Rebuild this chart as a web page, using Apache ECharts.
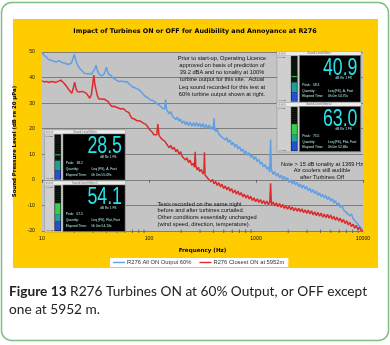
<!DOCTYPE html>
<html>
<head>
<meta charset="utf-8">
<script src="https://cdn.jsdelivr.net/npm/echarts@6/dist/echarts.min.js"></script>
<style>
html,body{margin:0;padding:0;background:#fff;}
#c{width:390px;height:345px;}
</style>
</head>
<body>
<div id="c"></div>
<script>
// Spectrum with all turbines running at 60% output (Hz, dB re 20 µPa)
const allOnFreq = [10,10.5,11,11.5,12,12.5,13,13.5,14,14.5,15,15.5,16,16.5,17,17.5,18,18.8,19.5,20,20.5,21,22,23,24,25,26,27,28,29,30,31,32,33,34,35,36,37,38,39,40,41,42,43,44,45,46,47,48,50,51,53,54.5,56,57.5,59,60.5,62,64,66,68,70,71.5,73,74.5,76,77.5,79,80.5,82,84,86,88,90,92.5,95,97.5,100,102.5,105,107,109,111.5,114,116,118,120,122,124,126,128.5,131,133.5,136,138,140,143,146,
  150,155,160,166,172,178,184,191,197,204,211,219,226,234,242,251,260,269,278,288,298,308,319,330,342,354,366,379,392,399,405,411,420,434,449,465,481,498,516,534,552,572,592,612,634,656,679,703,727,753,779,806,835,864,894,925,958,991,1026,1062,1099,1137,1177,1218,1261,1305,1345,1369,1393,1447,1497,1550,1604,1660,1718,1778,1840,1905,1971,2040,2112,2186,2262,2341,2423,2508,2596,2687,2781,2878,2979,3083,3191,3303,3418,3538,3662,3790,3922,4060,4202,4349,4501,4658,4821,4990,5165,5345,5532,5726,5926,6134,6348,6571,6800,7038,7285,7540,7803,8077,8359,8652,8955,9268,9593,9928,10000];
const allOnLevel = [49.8,48.6,48.1,47.1,46.9,46.6,46.8,46.1,46.4,46.6,45.9,45.8,46.0,45.6,45.7,45.1,45.3,45.6,47.5,49.1,47.6,46.0,44.1,43.2,42.4,41.6,41.9,41.5,41.7,41.4,42.3,43.2,44.8,42.6,41.4,41.0,40.7,40.9,41.4,42.6,44.1,42.4,41.3,40.6,40.9,40.2,39.9,39.4,39.6,38.9,39.1,38.4,38.0,38.7,38.9,38.3,38.1,38.5,37.9,37.3,36.6,36.4,36.9,36.4,35.9,35.8,36.1,35.5,35.1,35.3,34.6,34.3,33.6,33.1,32.6,31.9,32.1,31.5,31.2,31.7,31.4,31.0,30.6,30.5,30.1,30.2,29.6,29.8,29.3,29.1,28.6,28.5,28.0,28.0,27.5,27.7,31.4,27.4,
  27.5,25.8,26.7,24.9,25.4,23.6,24.5,22.9,23.8,22.1,23.1,21.6,22.8,21.2,22.6,21.0,22.3,20.9,22.4,20.9,22.1,20.6,22.0,20.4,21.6,20.1,21.4,19.9,20.8,19.5,24.2,20.3,18.9,19.7,17.9,18.6,16.7,17.4,15.6,16.5,14.7,15.6,13.7,14.6,12.9,13.9,12.1,13.0,11.2,12.1,10.3,11.3,9.6,10.6,8.8,9.7,8.0,9.0,7.2,8.0,6.1,6.9,5.1,6.0,4.2,5.0,3.1,15.8,4.0,2.2,3.2,1.5,2.5,0.8,1.8,0.2,1.4,-0.2,0.8,-1.0,0.0,-1.6,-0.4,-2.0,-1.0,-2.7,-1.6,-3.2,-2.0,-3.6,-2.6,-4.3,-3.3,-4.9,-3.8,-5.4,-4.4,-6.1,-5.1,-6.7,-5.6,-7.1,-6.1,-7.7,-6.7,-8.3,-7.3,-9.0,-8.1,-9.9,-9.0,-10.8,-9.9,-11.7,-11.0,-12.9,-12.2,-14.1,-13.3,-15.2,-14.5,-16.6,-16.0,-18.0,-17.5,-19.8,-19.9];

// Spectrum with only the closest turbine (5952 m) running
const closestFreq = [10,10.5,11,11.5,12,12.5,13,13.5,14,15,15.5,16,16.5,17,18,19,19.6,20.2,20.8,21.5,22.5,24,25,26,27,28,29,29.8,30.5,31.2,32,33,34,35,36,37,38.5,40,41.5,43,44,45,47,48,49,51,52,53,54.5,56,57.5,59,61,63,65,67,69,71,73,75,77.5,80,83,86,88.5,91,93.5,96,99,102,105,108,111,114,118,121,124,128,131,133,135.5,138,141.5,145,
  150,155,160,166,172,178,184,191,197,204,211,219,226,234,242,251,260,266,270,274,282,290,298,308,319,326,330,334,342,354,366,379,392,405,420,434,449,465,481,498,516,534,552,572,592,612,634,656,679,703,727,753,779,806,835,864,894,925,958,991,1026,1062,1099,1137,1177,1218,1261,1305,1345,1369,1393,1447,1497,1550,1604,1660,1718,1778,1840,1905,1971,2040,2112,2186,2262,2341,2423,2508,2596,2687,2781,2878,2979,3083,3191,3303,3418,3538,3662,3790,3922,4060,4202,4349,4501,4658,4821,4990,5165,5345,5532,5726,5926,6134,6348,6571,6800,7038,7285,7540,7803,8077,8359,8652,8955,9268,9593,9928,10000];
const closestLevel = [38.7,38.3,38.5,38.2,38.3,38.5,38.4,38.1,38.6,39.0,38.6,37.9,37.4,36.5,35.0,33.9,35.8,38.2,35.6,34.5,34.4,34.6,34.5,33.8,33.2,31.9,33.5,37.5,41.0,37.2,35.2,32.8,31.6,31.3,31.6,32.0,31.5,31.0,30.6,29.6,29.4,28.7,28.8,28.3,28.5,28.2,28.6,28.0,27.7,27.6,27.9,27.2,26.9,26.7,26.3,25.0,24.1,23.4,23.8,23.6,23.1,23.4,23.0,22.8,22.2,22.1,21.7,21.0,20.3,19.5,19.3,18.5,17.6,17.1,17.6,21.8,17.4,16.6,16.4,15.8,15.3,15.2,15.0,14.2,
  14.2,12.5,13.5,11.9,12.8,11.0,11.9,10.1,11.0,9.2,9.9,7.8,8.6,6.8,7.7,5.7,6.5,4.9,11.0,5.4,3.9,4.9,3.2,4.1,2.3,3.2,10.8,1.9,2.6,0.6,1.2,-0.7,0.2,-1.5,-0.6,-2.2,-1.1,-2.7,-1.7,-3.4,-2.4,-3.9,-2.8,-4.4,-3.4,-5.1,-4.0,-5.6,-4.4,-6.0,-5.0,-6.6,-5.6,-7.1,-6.0,-7.5,-6.4,-8.1,-7.0,-8.5,-7.4,-8.8,-7.7,-9.2,-8.1,-9.5,-8.3,-9.7,-8.6,-1.3,-9.8,-8.7,-10.2,-9.0,-10.5,-9.3,-10.8,-9.6,-11.2,-10.1,-11.5,-10.3,-11.7,-10.6,-12.1,-10.9,-12.3,-11.1,-12.5,-11.3,-12.8,-11.7,-13.1,-11.8,-13.3,-12.1,-13.7,-12.5,-14.0,-12.7,-14.2,-13.0,-14.6,-13.4,-14.8,-13.5,-15.0,-13.8,-15.4,-14.3,-15.8,-14.6,-16.1,-15.0,-16.6,-15.5,-17.1,-16.0,-17.6,-16.6,-18.3,-17.3,-18.9,-17.8,-19.4,-18.5,-19.8,-19.5,-19.9];

const seriesNames = ['R276 All ON Output 60%', 'R276 Closest ON at 5952m'];
const freqTicks = [10, 100, 1000, 10000];
const minorTickFreq = [20,30,40,50,60,70,80,90,200,300,400,500,600,700,800,900,2000,3000,4000,5000,6000,7000,8000,9000];

// Sound level meter readouts: upper-right pair (turbines ON), lower-left pair (turbines OFF)
const meterTitles = ['Sound Level Meter', 'Sound Level Meter 2', 'Sound Level Meter', 'Sound Level Meter 2'];
const meterValues = ['40.9', '63.0', '28.5', '54.1'];
const meterPeaks = ['58.3', '75.5', '38.2', '67.5'];
const meterQuantities = ['Leq (FS), A, Fast', 'Leq (FS), Flat, Fast', 'Leq (FS), A, Fast', 'Leq (FS), Flat, Fast'];
const meterElapsed = ['0h 0m 54.75s', '0h 0m 52.68s', '0h 0m 55.69s', '0h 0m 54.13s'];

const noteTopLines = ['Prior to start-up, Operating Licence','approved on basis of prediction of','39.2 dBA and no tonality at 100%','turbine output for this site.  Actual','Leq sound recorded for this test at','60% turbine output shown at right.'];
const noteBottomLines = ['Tests recorded on the same night','before and after turbines curtailed.','Other conditions essentially unchanged','(wind speed, direction, temperature).'];
const noteRightLines = ['Note > 15 dB tonality at 1369 Hz','Air coolers still audible','after Turbines Off'];

const BLUE = '#5f9fe8';
const RED = '#dc2b2b';
const SMALL = 'Liberation Sans';

function pairs(fs, vs) { return fs.map((f, i) => [f, vs[i]]); }

function meterWindow(k, wx, wy, w, h, strip, flat) {
  const els = [];
  const dx = wx + strip, dy = wy + 4, dw = w - strip - 0.5, dh = h - 4.5;
  els.push({type:'rect', z:20, shape:{x:wx, y:wy, width:w, height:h}, style:{fill:'#cfcfcf', stroke:'#8a8a8a', lineWidth:0.5}});
  els.push({type:'rect', z:21, shape:{x:wx, y:wy, width:w, height:4}, style:{fill:'#ececec', stroke:'#a0a0a0', lineWidth:0.4}});
  [2.2, 4.9, 7.6].forEach(o => els.push({type:'circle', z:22, shape:{cx:wx + o, cy:wy + 2, r:1}, style:{fill:'#c4c4c4', stroke:'#8a8a8a', lineWidth:0.3}}));
  els.push({type:'text', z:22, x:wx + w / 2, y:wy + 2.1, style:{text:meterTitles[k], fontSize:2.8, fontFamily:SMALL, fill:'#666', align:'center', verticalAlign:'middle'}});
  // level bar
  const bx = dx - 8.5, by = dy + 0.5, bw = 6.5, bh = dh - 1;
  els.push({type:'rect', z:21, shape:{x:bx, y:by, width:bw, height:bh}, style:{fill:'#050805', stroke:'#6a6a6a', lineWidth:0.4}});
  for (let t = 0.06; t < 0.95; t += 0.045) {
    els.push({type:'line', z:22, shape:{x1:bx + 0.6, y1:by + bh * t, x2:bx + bw - 0.6, y2:by + bh * t}, style:{stroke:'#213a26', lineWidth:0.5}});
  }
  const zone = (a, b, c) => els.push({type:'rect', z:23, shape:{x:bx + 0.6, y:by + bh * a, width:bw - 1.2, height:bh * (b - a)}, style:{fill:c}});
  if (flat) {
    zone(0.39, 0.63, '#35d04a');
    zone(0.63, 0.79, '#1fa58f');
    zone(0.79, 0.99, '#2450d8');
  } else {
    zone(0.44, 0.465, '#2fb84a');
    zone(0.58, 0.8, '#1d9f96');
    zone(0.8, 0.99, '#2450d8');
  }
  els.push({type:'text', z:22, x:wx + 1.2, y:by + 1.5, style:{text:'0.0 dB', fontSize:2.4, fontFamily:SMALL, fill:'#444', verticalAlign:'middle'}});
  els.push({type:'text', z:22, x:wx + 1.2, y:by + bh - 1, style:{text:'-0.0 dB', fontSize:2.4, fontFamily:SMALL, fill:'#444', verticalAlign:'middle'}});
  // readout display
  els.push({type:'rect', z:21, shape:{x:dx, y:dy, width:dw, height:dh}, style:{fill:'#000', stroke:'#777', lineWidth:0.5}});
  els.push({type:'text', z:22, x:dx + dw - 3, y:dy + 12.8, scaleX:0.74, style:{text:meterValues[k], fontSize:24, fontFamily:SMALL, fill:'#27e3ec', align:'right', verticalAlign:'middle'}});
  els.push({type:'text', z:22, x:dx + dw - 8.5, y:dy + 23, style:{text:'dB Re 1 FS', fontSize:3.2, fontFamily:SMALL, fill:'#b8eef0', align:'right', verticalAlign:'middle'}});
  const row = (yy, label, val, vx) => {
    els.push({type:'text', z:22, x:dx + 2.7, y:dy + yy, style:{text:label, fontSize:3.3, fontFamily:SMALL, fill:'#b8eef0', verticalAlign:'middle'}});
    els.push({type:'text', z:22, x:dx + vx, y:dy + yy, style:{text:val, fontSize:3.3, fontFamily:SMALL, fill:'#b8eef0', verticalAlign:'middle'}});
  };
  row(29.5, 'Peak:', meterPeaks[k], 13.5);
  row(35.5, 'Quantity:', meterQuantities[k], 28.5);
  row(41, 'Elapsed Time:', meterElapsed[k], 28.5);
  return els;
}

function textBlock(lines, x, y0, step, align) {
  return lines.map((s, i) => ({type:'text', z:15, x:x, y:y0 + i * step,
    style:{text:s, fontSize:5.7, fontFamily:SMALL, fill:'#111', align:align, verticalAlign:'middle'}}));
}

const graphics = [
  {type:'rect', z:-20, shape:{x:1.5, y:2.5, width:387, height:338, r:10}, style:{fill:'#fff', stroke:'#7fbf7f', lineWidth:1.5}},
  {type:'rect', z:-19, shape:{x:13, y:19, width:365, height:249}, style:{fill:'#ffcc00'}},
  {type:'text', z:5, x:195, y:31, style:{text:'Impact of Turbines ON or OFF for Audibility and Annoyance at R276', fontSize:6.4, fontWeight:'bold', fontFamily:'DejaVu Sans', fill:'#000', align:'center', verticalAlign:'middle'}},
  {type:'text', z:5, x:9, y:283, style:{
    text:'{b|Figure 13} R276 Turbines ON at 60% Output, or OFF except\none at 5952 m.',
    fontSize:13.7, fontFamily:'Lato', fill:'#222', lineHeight:18,
    rich:{b:{fontSize:13.7, fontFamily:'Lato', fontWeight:'bold', fill:'#222', lineHeight:18}}}}
]
.concat(meterWindow(0, 277, 51.5, 84, 51, 22.5, false))
.concat(meterWindow(1, 277, 102.5, 84, 49.5, 22.5, true))
.concat(meterWindow(2, 44.5, 130, 81, 50.5, 18.5, false))
.concat(meterWindow(3, 44.5, 181, 81, 51, 18.5, true))
.concat(textBlock(noteTopLines, 222, 58, 7.3, 'center'))
.concat(textBlock(noteBottomLines, 157.5, 204.3, 6.6, 'left'))
.concat(textBlock(noteRightLines, 322, 164, 6.8, 'center'));

const chart = echarts.init(document.getElementById('c'), null, {renderer:'canvas', width:390, height:345});
chart.setOption({
  animation:false,
  backgroundColor:'transparent',
  grid:{left:42, top:52, width:321, height:179, show:true, backgroundColor:'#c4c4c4', borderWidth:0},
  legend:{data:seriesNames, left:110, top:258, padding:[1.5,4,1.5,3], itemGap:8, itemWidth:12, itemHeight:1.4, icon:'rect',
    backgroundColor:'#fff', textStyle:{fontSize:5.8, fontFamily:SMALL, color:'#333', padding:[0,0,0,-3]}},
  xAxis:{type:'log', logBase:10, min:10, max:10000,
    name:'Frequency (Hz)', nameLocation:'middle', nameGap:17,
    nameTextStyle:{fontSize:5.6, fontWeight:'bold', fontFamily:'DejaVu Sans', color:'#000'},
    axisLine:{show:false}, splitLine:{show:false},
    axisTick:{show:true, length:3, lineStyle:{color:'#555', width:0.8}},
    axisLabel:{fontSize:5.2, fontFamily:SMALL, color:'#111', margin:5,
      formatter:v => { const r = Math.round(v); return freqTicks.indexOf(r) >= 0 ? String(r) : ''; }}},
  yAxis:{type:'value', min:-20, max:50, interval:10,
    name:'Sound Pressure Level (dB re 20 µPa)', nameLocation:'middle', nameGap:20, nameRotate:90,
    nameTextStyle:{fontSize:5.4, fontWeight:'bold', fontFamily:'DejaVu Sans', color:'#000'},
    axisLine:{show:false}, axisTick:{show:false},
    axisLabel:{fontSize:5.2, fontFamily:SMALL, color:'#111', margin:7},
    splitLine:{lineStyle:{color:'#7c7c7c', width:1}}},
  graphic:{elements:graphics},
  series:[
    {name:seriesNames[0], type:'line', data:pairs(allOnFreq, allOnLevel), showSymbol:false, symbol:'none', sampling:'none',
      lineStyle:{color:BLUE, width:1.5}, itemStyle:{color:BLUE}, z:3},
    {name:seriesNames[1], type:'line', data:pairs(closestFreq, closestLevel), showSymbol:false, symbol:'none', sampling:'none',
      lineStyle:{color:RED, width:1.5}, itemStyle:{color:RED}, z:4},
    {name:'minor ticks', type:'custom', silent:true, z:5,
      data:minorTickFreq.map(f => [f, -20]),
      renderItem:(params, api) => {
        const p = api.coord([api.value(0), api.value(1)]);
        return {type:'line', shape:{x1:p[0], y1:p[1] - 1.5, x2:p[0], y2:p[1] + 2}, style:{stroke:'#555', lineWidth:0.8}};
      }}
  ]
});
</script>
</body>
</html>
